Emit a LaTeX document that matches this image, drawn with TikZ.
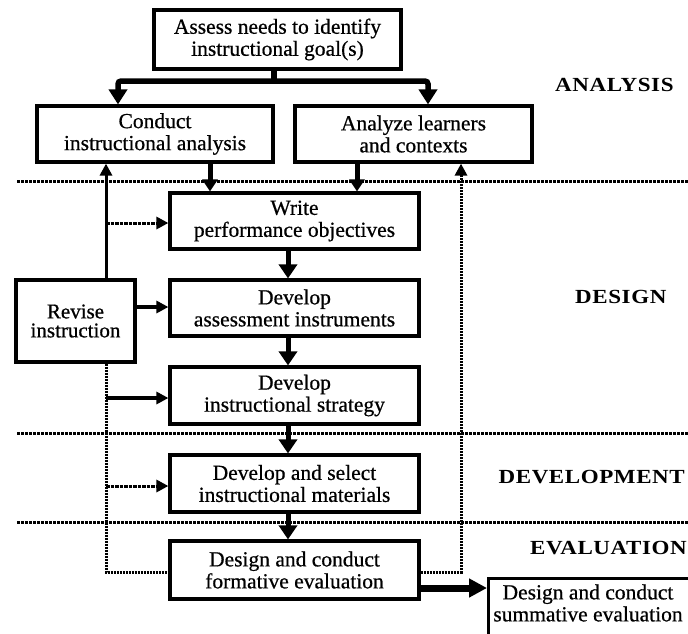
\documentclass[tikz,border=0pt]{standalone}
\usepackage{fontspec}
\setmainfont{Liberation Serif}[FakeBold=0.6]
\newfontfamily\phasefont{Liberation Serif}[FakeStretch=1.15, LetterSpace=3]
\usetikzlibrary{arrows.meta}
\begin{document}
\begin{tikzpicture}[x=1pt,y=-1pt,
  stepbox/.style={draw, line width=3.2pt, fill=white, inner sep=0pt, align=center,
    font=\fontsize{21.5}{22}\selectfont},
  steptext/.style={inner sep=0pt, align=center, font=\fontsize{21.5}{22}\selectfont},
  phase/.style={anchor=west, inner sep=0pt, font=\phasefont\bfseries\fontsize{20}{22}\selectfont},
  divider/.style={line width=3pt, dash pattern=on 3pt off 1pt},
  flow/.style={line width=5pt, -{Triangle[length=14pt,width=18pt]}},
  feed/.style={line width=5pt, -{Triangle[length=12pt,width=15pt]}},
  split/.style={line width=5.5pt, rounded corners=3pt},
  loop/.style={line width=3pt},
  loopdot/.style={line width=3pt, dash pattern=on 2pt off 1pt},
  loopdash/.style={line width=3pt, dash pattern=on 3.5pt off 1pt},
  looptip/.style={-{Triangle[length=12pt,width=12pt]}},
]
\useasboundingbox (0,0) rectangle (688,633);

% phase dividers
\draw[divider] (17,181) -- (688,181);
\draw[divider] (17,433) -- (688,433);
\draw[divider] (17,522) -- (688,522);

% phase names
\node[phase] (analysis) at (555,85) {ANALYSIS};
\node[phase] (design) at (575,297) {DESIGN};
\node[phase, anchor=east] (development) at (685,477) {DEVELOPMENT};
\node[phase, anchor=east] (evaluation) at (687,548) {EVALUATION};

% steps
\node[stepbox, minimum width=247pt, minimum height=59pt] (goal) at (277.5,39.5)
  {Assess needs to identify\\instructional goal(s)};
\node[stepbox, minimum width=236pt, minimum height=56pt] (instr) at (155,134)
  {Conduct\\instructional analysis};
\node[stepbox, minimum width=237pt, minimum height=56pt] (learn) at (413.5,134)
  {Analyze learners\\and contexts};
\node[stepbox, minimum width=249pt, minimum height=56pt] (obj) at (294.5,221)
  {Write\\performance objectives};
\node[stepbox, minimum width=249pt, minimum height=56pt] (assess) at (294.5,308)
  {Develop\\assessment instruments};
\node[stepbox, minimum width=249pt, minimum height=57pt] (strat) at (294.5,395.5)
  {Develop\\instructional strategy};
\node[stepbox, minimum width=249pt, minimum height=57pt] (mat) at (294.5,483.5)
  {Develop and select\\instructional materials};
\node[stepbox, minimum width=249pt, minimum height=58pt] (form) at (294.5,570)
  {Design and conduct\\formative evaluation};
\node[stepbox, minimum width=119pt, minimum height=82pt,
  font=\fontsize{21}{19}\selectfont] (revise) at (75.5,321)
  {Revise\\instruction};
\node[stepbox, minimum width=202pt, minimum height=72pt, anchor=north west] (summ) at (487,577) {};
\node[steptext] (summtext) at (588,603) {Design and conduct\\summative evaluation};

% branching from the goal
\coordinate (hub) at (274,81);
\coordinate (brL) at (118,81);
\coordinate (brR) at (428,81);
\draw[split] (goal.south -| hub) -- (hub);
\draw[split, -{Triangle[length=15pt,width=18pt]}] (hub) -- (brL) -- (brL |- instr.north);
\draw[split, -{Triangle[length=15pt,width=18pt]}] (hub) -- (brR) -- (brR |- learn.north);

% analysis results into objectives
\coordinate (inL) at (210,0);
\coordinate (inR) at (357,0);
\draw[feed] (inL |- instr.south) -- (inL |- obj.north);
\draw[feed] (inR |- learn.south) -- (inR |- obj.north);

% main chain
\coordinate (spine) at (288,0);
\draw[flow] (spine |- obj.south) -- (spine |- assess.north);
\draw[flow] (spine |- assess.south) -- (spine |- strat.north);
\draw[flow] (spine |- strat.south) -- (spine |- mat.north);
\draw[flow] (spine |- mat.south) -- (spine |- form.north);

% revision loop
\coordinate (fbL) at (106,0);
\coordinate (fbR) at (461,0);
\coordinate (fbY) at (0,572);
\coordinate (toObj) at (0,223);
\coordinate (toAssess) at (0,307);
\coordinate (toStrat) at (0,398);
\coordinate (toMat) at (0,486);
\draw[loop, looptip] (fbL |- revise.north) -- (fbL |- instr.south);
\draw[loopdash, looptip] (fbL |- toObj) -- (obj.west |- toObj);
\draw[loop, line width=3.6pt, looptip] (revise.east |- toAssess) -- (assess.west |- toAssess);
\draw[loopdot] (fbL |- revise.south) -- (fbL |- fbY) -- (form.west |- fbY);
\draw[loop, line width=3.4pt, looptip] (fbL |- toStrat) -- (strat.west |- toStrat);
\draw[loopdash, looptip] (fbL |- toMat) -- (mat.west |- toMat);
\draw[loopdot, looptip] (form.east |- fbY) -- (fbR |- fbY) -- (fbR |- learn.south);

% on to summative evaluation
\coordinate (hand) at (0,588);
\draw[line width=7pt, -{Triangle[length=18pt,width=18pt]}] (form.east |- hand) -- (summ.west |- hand);
\end{tikzpicture}
\end{document}
